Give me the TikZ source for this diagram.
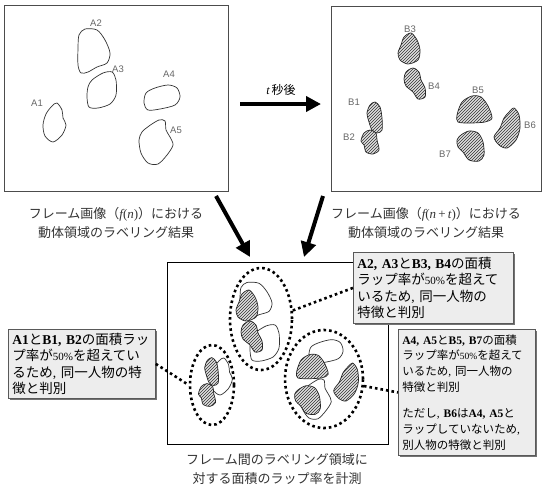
\documentclass[tikz,border=0pt]{standalone}
\usepackage{fontspec}
\setmainfont{Liberation Serif}
\newfontfamily\jp{Noto Sans CJK JP}
\newfontfamily\lsans{Liberation Sans}
\usetikzlibrary{arrows.meta,patterns,shapes.geometric,shadows}

\newcommand\lt[1]{{\rmfamily\bfseries #1}}
\newcommand\pc{{\rmfamily\fontsize{11}{12}\selectfont 50\%}}
\newcommand\pcs{{\rmfamily\fontsize{9.5}{10}\selectfont 50\%}}
\newcommand\cm{{\rmfamily ,} }

\newcommand\blobAone{plot[smooth cycle] coordinates {(3,-19)(8,-12)(9,-4)(12,3)(8,13)(-1,20)(-9,14)(-11,3)(-8,-8)(-2,-16)}}
\newcommand\blobAtwo{plot[smooth cycle] coordinates {(-15,-17)(-9,-23)(3,-22)(11,-12)(16,1)(13,11)(3,15)(-6,20)(-13,21)(-16,13)(-16,-4)}}
\newcommand\blobAthree{plot[smooth cycle] coordinates {(-10,-10)(1,-17)(10,-18)(14,-10)(14,5)(8,14)(-4,18)(-13,17)(-15,7)(-14,-3)}}
\newcommand\blobAfour{plot[smooth cycle] coordinates {(-16,-5)(-7,-10)(6,-13)(15,-10)(18,-1)(13,7)(-2,11)(-14,12)(-18,5)}}
\newcommand\blobAfive{plot[smooth cycle] coordinates {(-7,-16)(3,-22)(9,-21)(10,-12)(14,-5)(17,3)(11,13)(2,22)(-8,21)(-15,11)(-17,-2)(-14,-10)}}
\newcommand\blobBone{plot[smooth cycle] coordinates {(-4,-13)(1,-16)(6,-11)(8,0)(8,12)(3,15)(-2,12)(-5,4)(-7,-5)}}
\newcommand\blobBtwo{plot[smooth cycle] coordinates {(-6,-9)(0,-12)(6,-9)(7,-2)(9,8)(3,12)(-4,10)(-6,3)(-9,-1)}}
\newcommand\blobBthree{plot[smooth cycle] coordinates {(-5,-12)(2,-16)(8,-9)(11,1)(9,11)(-1,15)(-9,11)(-11,4)(-8,-4)}}
\newcommand\blobBfour{plot[smooth cycle] coordinates {(-9,-12)(-2,-16)(4,-12)(6,-4)(10,4)(10,13)(3,15)(-2,8)(-9,2)(-11,-5)}}
\newcommand\blobBfive{plot[smooth cycle] coordinates {(-12,-8)(-2,-14)(7,-13)(14,-4)(18,8)(11,12)(-4,13)(-16,12)(-17,5)}}
\newcommand\blobBsix{plot[smooth cycle] coordinates {(2,-16)(7,-20)(12,-13)(13,0)(9,12)(0,20)(-8,17)(-13,9)(-7,0)(-3,-10)}}
\newcommand\blobBseven{plot[smooth cycle] coordinates {(-9,-11)(-1,-15)(8,-13)(13,-4)(14,9)(9,15)(-1,14)(-7,6)(-12,1)(-13,-6)}}

\begin{document}
\begin{tikzpicture}[x=1pt,y=-1pt,
  frame/.style={draw=black!70, line width=0.9pt, inner sep=0pt, anchor=north west},
  outl/.style={draw=black!80, line width=0.7pt},
  hatch/.style={draw=black!85, line width=0.7pt, fill=black!12, postaction={pattern=north east lines, pattern color=black!80}},
  lbl/.style={font=\lsans\fontsize{9.5}{10}\selectfont, text=black!60, inner sep=0pt},
  captxt/.style={font=\jp\fontsize{13}{19}\selectfont, align=center, inner sep=0pt, text=black!80},
  callout/.style={draw=black!65, fill=black!7, line width=0.8pt, align=left, anchor=north west,
     inner xsep=4pt, inner ysep=3pt, font=\jp\fontsize{13.5}{16.5}\selectfont,
     drop shadow={shadow xshift=1.2pt, shadow yshift=-1.2pt, fill=black!55, opacity=1}},
  dots/.style={line width=2.6pt, dash pattern=on 2.6pt off 3pt, draw=black},
  bigarrow/.style={line width=4pt, -{Triangle[length=15pt,width=15pt]}},
]
\useasboundingbox (0,0) rectangle (545,485);

% top frames
\node[frame, minimum width=224pt, minimum height=186pt] (f1) at (4,5) {};
\node[frame, minimum width=210pt, minimum height=185pt] (f2) at (331,6) {};

% A blobs (top left)
\draw[outl, shift={(54,122)}] \blobAone;
\draw[outl, shift={(94,52)}] \blobAtwo;
\draw[outl, shift={(102,90)}] \blobAthree;
\draw[outl, shift={(162,98)}] \blobAfour;
\draw[outl, shift={(156,142)}] \blobAfive;
\node[lbl] (lA1) at (37,103) {A1};
\node[lbl] (lA2) at (96,23) {A2};
\node[lbl] (lA3) at (118,69) {A3};
\node[lbl] (lA4) at (169,74) {A4};
\node[lbl] (lA5) at (176,130) {A5};

% B blobs (top right)
\draw[hatch, shift={(374,118)}] \blobBone;
\draw[hatch, shift={(370,142)}] \blobBtwo;
\draw[hatch, shift={(409,49)}] \blobBthree;
\draw[hatch, shift={(415,84)}] \blobBfour;
\draw[hatch, shift={(474,110)}] \blobBfive;
\draw[hatch, shift={(507,128)}] \blobBsix;
\draw[hatch, shift={(470,146)}] \blobBseven;
\node[lbl] (lB1) at (354,102) {B1};
\node[lbl] (lB2) at (349,137) {B2};
\node[lbl] (lB3) at (410,29) {B3};
\node[lbl] (lB4) at (434,86) {B4};
\node[lbl] (lB5) at (478,90) {B5};
\node[lbl] (lB6) at (530,125) {B6};
\node[lbl] (lB7) at (445,154) {B7};

% top arrow
\coordinate (ta1) at (240,104);
\coordinate (ta2) at (321,104);
\draw[bigarrow] (ta1) -- (ta2);
\node[font=\jp\fontsize{12}{14}\selectfont, inner sep=0pt] (tl) at (281,90) {{\rmfamily\itshape t}\,秒後};

% captions
\node[captxt] (cap1) at (116,222.5) {フレーム画像（{\rmfamily\itshape f}{\rmfamily (}{\rmfamily\itshape n}{\rmfamily )}）における\\動体領域のラベリング結果};
\node[captxt] (cap2) at (426,222.5) {フレーム画像（{\rmfamily\itshape f}{\rmfamily (}{\rmfamily\itshape n}{\rmfamily\,+\,}{\rmfamily\itshape t}{\rmfamily )}）における\\動体領域のラベリング結果};

% diagonal arrows
\coordinate (la1) at (216,196);
\coordinate (la2) at (250,257);
\coordinate (ra1) at (323,196);
\coordinate (ra2) at (304,257);
\draw[bigarrow] (la1) -- (la2);
\draw[bigarrow] (ra1) -- (ra2);

% bottom box
\node[frame, draw=black, minimum width=221pt, minimum height=182pt] (bot) at (167,262) {};

% overlay blobs
\draw[outl, shift={(221,376)}, scale=0.95] \blobAone;
\draw[hatch, shift={(211,372)}, scale=0.9] \blobBone;
\draw[hatch, shift={(207,395)}, scale=0.95] \blobBtwo;

\draw[outl, shift={(256,302)}, yscale=0.85] \blobAtwo;
\draw[outl, shift={(265,343)}] \blobAthree;
\draw[hatch, shift={(247,306)}] \blobBthree;
\draw[hatch, shift={(252,337)}] \blobBfour;

\draw[outl, shift={(326,352)}, scale=0.95] \blobAfour;
\draw[outl, shift={(316,399)}, scale=0.9] \blobAfive;
\draw[hatch, shift={(312,367)}, scale=0.9] \blobBfive;
\draw[hatch, shift={(307,400)}, scale=0.95] \blobBseven;
\draw[hatch, shift={(346,382)}, scale=0.95] \blobBsix;

% dotted ellipses
\node[dots, ellipse, minimum width=44pt, minimum height=80pt, inner sep=0pt] (e1) at (212,385) {};
\node[dots, ellipse, minimum width=62pt, minimum height=102pt, inner sep=0pt] (e2) at (261,319) {};
\node[dots, ellipse, minimum width=78pt, minimum height=98pt, inner sep=0pt] (e3) at (324,379) {};

% callouts
\node[callout, text width=152pt, minimum height=71pt] (c1) at (353,252)
  {\lt{A2\cm A3}と\lt{B3\cm B4}の面積\\ラップ率が\pc を超えて\\いるため\cm 同一人物の\\特徴と判別};
\node[callout, text width=129pt, minimum height=126pt, font=\jp\fontsize{11.5}{15.7}\selectfont] (c2) at (398,329)
  {\lt{A4\cm A5}と\lt{B5\cm B7}の面積\\ラップ率が\pcs を超えて\\いるため\cm 同一人物の\\特徴と判別\\[11pt]ただし\cm \lt{B6}は\lt{A4\cm A5}と\\ラップしていないため{\rmfamily ,}\\別人物の特徴と判別};
\node[callout, text width=139pt, minimum height=69pt] (c3) at (8,329)
  {\lt{A1}と\lt{B1\cm B2}の面積ラッ\\プ率が\pc を超えてい\\るため\cm 同一人物の特\\徴と判別};

% dotted connectors
\draw[dots] (c3.east) -- (e1.west);
\draw[dots] (e2.15) -- (c1.west);
\draw[dots] (e3.-10) -- (c2.west);

% bottom caption
\node[captxt] (cap3) at (277,469) {フレーム間のラベリング領域に\\対する面積のラップ率を計測};
\end{tikzpicture}
\end{document}
